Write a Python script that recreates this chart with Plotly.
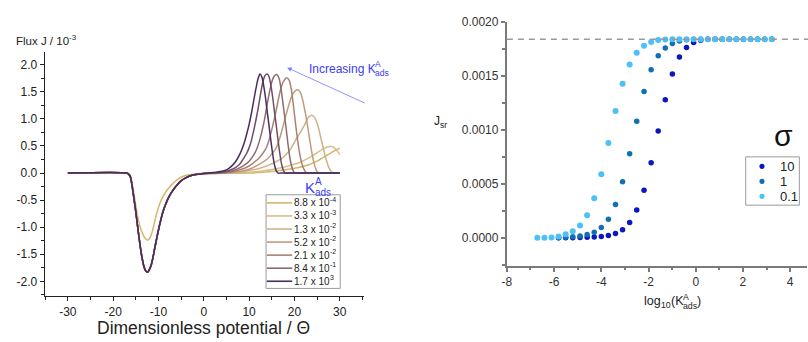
import plotly.graph_objects as go

# ---------------- Left panel data (flux J / 1e-3 vs dimensionless potential) ----------------
k_mantissa = ["8.8 x 10", "3.3 x 10", "1.3 x 10", "5.2 x 10", "2.1 x 10", "8.4 x 10", "", "1.7 x 10"]
k_exponent = ["-4", "-3", "-2", "-2", "-2", "-1", "", "3"]
k_colors = ["#D6B66C", "#D6BF88", "#CFB288", "#C29B7E", "#A98274", "#8F6B6F", "#6E4C66", "#4B2C5C"]

theta_dip = [-30, -17, -16.6, -16.2, -15.8, -15.35, -15, -14.6, -14.2, -13.7, -13.2, -12.8, -12.4, -12,
             -11.6, -11.3, -10.9, -10.45, -10, -9.5, -9, -8.4, -7.7, -6.9, -6, -5.1, -4, -2.6, -1]
flux_dip = [0, 0, -0.02, -0.07, -0.25, -0.51, -0.72, -0.99, -1.25, -1.53, -1.73, -1.81, -1.83, -1.78,
            -1.7, -1.59, -1.42, -1.23, -1.05, -0.87, -0.71, -0.57, -0.44, -0.33, -0.23, -0.15, -0.09, -0.04, -0.02]

theta_dip_low = [-30, -17, -16.6, -16.2, -15.8, -15.4, -15, -14.6, -14.1, -13.5, -13, -12.4, -11.9, -11.3,
                 -10.8, -10.2, -9.6, -9.1, -8.4, -7.7, -6.8, -5.85, -4.5, -3.3, -1]
flux_dip_low = [0, 0, -0.02, -0.06, -0.2, -0.4, -0.6, -0.8, -0.98, -1.12, -1.2, -1.24, -1.2, -1.06,
                -0.88, -0.69, -0.54, -0.45, -0.35, -0.27, -0.19, -0.12, -0.06, -0.03, -0.01]

theta_pk1 = [0, 1, 2, 3, 4, 5, 6, 7, 8, 8.5, 9, 9.5, 10, 10.5, 11, 11.5, 12, 12.4, 12.8, 13.2, 13.6, 14,
             14.4, 14.8, 15.2, 15.6, 16, 16.4, 17, 20, 30]
flux_pk1 = [-0.01, 0, 0.01, 0.02, 0.035, 0.06, 0.12, 0.21, 0.36, 0.46, 0.58, 0.73, 0.9, 1.1, 1.33, 1.56,
            1.75, 1.83, 1.78, 1.62, 1.4, 1.13, 0.87, 0.6, 0.35, 0.15, 0.04, 0, 0, 0, 0]

theta_pk2 = [0, 2, 3, 4, 5, 6, 7, 8, 9, 9.5, 10, 10.5, 11, 11.5, 12, 12.5, 13, 13.5, 14, 14.4, 14.8, 15.2,
             15.6, 16, 16.4, 16.8, 17.2, 17.6, 18, 19, 30]
flux_pk2 = [-0.01, 0, 0.01, 0.02, 0.035, 0.06, 0.1, 0.17, 0.3, 0.37, 0.47, 0.6, 0.78, 0.98, 1.2, 1.45,
            1.67, 1.8, 1.83, 1.78, 1.62, 1.4, 1.13, 0.87, 0.6, 0.35, 0.15, 0.04, 0, 0, 0]

theta_pk3 = [0, 3, 5, 6, 7, 8, 9, 10, 11, 11.7, 12.5, 13.1, 13.6, 14, 14.5, 15, 15.5, 16.1, 16.6, 17, 17.5,
             18.1, 18.6, 19, 19.4, 19.8, 20.1, 21, 30]
flux_pk3 = [-0.01, 0, 0.02, 0.035, 0.06, 0.1, 0.15, 0.22, 0.33, 0.45, 0.66, 0.87, 1.08, 1.28, 1.5, 1.68,
            1.79, 1.82, 1.75, 1.58, 1.27, 0.87, 0.52, 0.28, 0.12, 0.03, 0, 0, 0]

theta_pk4 = [0, 4, 6, 8, 10, 11, 12, 13, 13.7, 14.5, 15.2, 16, 16.5, 17, 17.5, 18.3, 18.8, 19.3, 19.8, 20.3,
             20.8, 21.3, 21.8, 22.3, 22.7, 24, 30]
flux_pk4 = [-0.01, 0, 0.02, 0.06, 0.13, 0.19, 0.26, 0.36, 0.45, 0.64, 0.87, 1.17, 1.38, 1.56, 1.68, 1.76,
            1.72, 1.55, 1.23, 0.87, 0.55, 0.3, 0.13, 0.04, 0, 0, 0]

theta_pk5 = [0, 5, 8, 10, 12, 14, 15, 15.9, 16.7, 17.5, 18.3, 19, 19.7, 20.7, 21.3, 21.9, 22.4, 22.9, 23.4,
             23.9, 24.4, 24.9, 25.3, 26.5, 30]
flux_pk5 = [-0.01, 0, 0.03, 0.07, 0.15, 0.26, 0.35, 0.45, 0.63, 0.87, 1.12, 1.32, 1.47, 1.54, 1.49, 1.32,
            1.11, 0.87, 0.6, 0.35, 0.16, 0.04, 0, 0, 0]

theta_pk6 = [0, 6, 9, 12, 15, 17, 18, 19.2, 20.2, 21.3, 22.3, 23, 23.8, 24.5, 25.2, 25.8, 26.4, 27, 27.6,
             28.2, 29, 30]
flux_pk6 = [-0.01, 0, 0.03, 0.08, 0.17, 0.26, 0.33, 0.45, 0.6, 0.75, 0.9, 1.02, 1.07, 1.02, 0.87, 0.66,
            0.45, 0.25, 0.1, 0.02, 0, 0]

theta_pk7 = [0, 8, 12, 16, 19, 21, 23, 24.5, 26, 27.2, 28.2, 28.9, 29.5, 30]
flux_pk7 = [-0.01, 0, 0.03, 0.08, 0.14, 0.19, 0.27, 0.35, 0.43, 0.48, 0.49, 0.46, 0.4, 0.34]

theta_pk8 = [0, 10, 15, 20, 23, 25, 26, 27, 28, 29, 30]
flux_pk8 = [0, 0, 0.03, 0.09, 0.15, 0.22, 0.27, 0.32, 0.37, 0.42, 0.46]

# order: lowest K first (legend order), highest K last (drawn on top)
curves = [
    (theta_dip_low + theta_pk8, flux_dip_low + flux_pk8),
    (theta_dip + theta_pk7, flux_dip + flux_pk7),
    (theta_dip + theta_pk6, flux_dip + flux_pk6),
    (theta_dip + theta_pk5, flux_dip + flux_pk5),
    (theta_dip + theta_pk4, flux_dip + flux_pk4),
    (theta_dip + theta_pk3, flux_dip + flux_pk3),
    (theta_dip + theta_pk2, flux_dip + flux_pk2),
    (theta_dip + theta_pk1, flux_dip + flux_pk1),
]

left_xticks = [-30, -20, -10, 0, 10, 20, 30]
left_xtext = ["-30", "-20", "-10", "0", "10", "20", "30"]
left_yticks = [-2, -1.5, -1, -0.5, 0, 0.5, 1, 1.5, 2]
left_ytext = ["-2.0", "-1.5", "-1.0", "-0.5", "0.0", "0.5", "1.0", "1.5", "2.0"]

# ---------------- Right panel data (J_sr vs log10 K) ----------------
log_k = [-6.71, -6.41, -6.11, -5.81, -5.51, -5.21, -4.90, -4.60, -4.30, -4.00, -3.70, -3.40, -3.10,
         -2.80, -2.50, -2.19, -1.89, -1.59, -1.29, -0.99, -0.69, -0.39, -0.09, 0.21, 0.51, 0.82, 1.12,
         1.42, 1.72, 2.02, 2.32, 2.62, 2.92, 3.22]
j_sigma01 = [0.0, 0.0, 0.003, 0.013, 0.034, 0.061, 0.115, 0.21, 0.367, 0.59, 0.88, 1.176, 1.427, 1.606,
             1.715, 1.779, 1.815, 1.833, 1.838, 1.84, 1.84, 1.84, 1.84, 1.84, 1.84, 1.84, 1.84, 1.84,
             1.84, 1.84, 1.84, 1.84, 1.84, 1.84]
j_sigma1 = [0.002, 0.005, 0.01, 0.018, 0.03, 0.052, 0.097, 0.173, 0.309, 0.52, 0.78, 1.08, 1.355, 1.558,
            1.688, 1.76, 1.80, 1.825, 1.835, 1.84, 1.84, 1.84, 1.84, 1.84, 1.84, 1.84, 1.84, 1.84, 1.84,
            1.84, 1.84]
j_sigma10 = [0.0, 0.001, 0.002, 0.003, 0.005, 0.008, 0.013, 0.022, 0.04, 0.076, 0.143, 0.258, 0.44, 0.695,
             0.99, 1.28, 1.518, 1.676, 1.764, 1.81, 1.83, 1.84, 1.84, 1.84, 1.84, 1.84, 1.84, 1.84, 1.84,
             1.84, 1.84]
j_limit = 1.84
sigma_labels = ["10", "1", "0.1"]
sigma_colors = ["#0A18BE", "#1170B0", "#4DC0F8"]

right_xticks = [-8, -6, -4, -2, 0, 2, 4]
right_xtext = ["-8", "-6", "-4", "-2", "0", "2", "4"]
right_yticks = [0, 0.0005, 0.001, 0.0015, 0.002]
right_ytext = ["0.0000", "0.0005", "0.0010", "0.0015", "0.0020"]

W, H = 808, 342
def px(x):
    return x / W
def py(y):
    return 1 - y / H

# Arial / Liberation Sans advance widths (per 1000 em) for text placement
ARIAL_W = {"0": 556, "1": 556, "2": 556, "3": 556, "4": 556, "5": 556, "6": 556, "7": 556, "8": 556,
           "9": 556, ".": 278, " ": 278, "x": 500, "-": 333, "l": 222, "o": 556, "g": 556, "(": 333,
           ")": 333, "K": 667, "a": 556, "d": 556, "s": 500, "J": 500, "F": 611, "u": 556, "/": 278,
           "A": 667, "r": 333}
def tw(s, size):
    return sum(ARIAL_W.get(c, 556) for c in s) * size / 1000.0

fig = go.Figure()

for (tx, fy), col in zip(curves, k_colors):
    fig.add_trace(go.Scatter(x=tx, y=fy, mode="lines", xaxis="x", yaxis="y",
                             line=dict(color=col, width=1.5, shape="spline", smoothing=0.8),
                             showlegend=False, hoverinfo="skip"))

series = [(log_k[3:], j_sigma10), (log_k[3:], j_sigma1), (log_k, j_sigma01)]
sizes = [5.5, 5.5, 6]
for (xs, ys), col, sz in zip(series, sigma_colors, sizes):
    fig.add_trace(go.Scatter(x=xs, y=[v * 1e-3 for v in ys], mode="markers", xaxis="x2", yaxis="y2",
                             marker=dict(color=col, size=sz, line=dict(width=0)),
                             showlegend=False, hoverinfo="skip"))

lax = dict(showline=True, linecolor="#222", linewidth=1.3, ticks="outside", ticklen=4, tickwidth=1.2,
           tickcolor="#222", showgrid=False, zeroline=False, tickfont=dict(size=12, color="#222"))
rax = dict(showline=True, linecolor="#7a7a7a", linewidth=2, ticks="outside", ticklen=4, tickwidth=1.5,
           tickcolor="#7a7a7a", showgrid=False, zeroline=False, tickfont=dict(size=12, color="#333"))

fig.update_layout(
    width=W, height=H, margin=dict(l=0, r=0, t=0, b=0),
    paper_bgcolor="white", plot_bgcolor="white", showlegend=False,
    font=dict(family="Arial", size=12, color="#222"),
    xaxis=dict(domain=[px(40), px(361)], range=[-35.1, 35.3], anchor="y",
               tickmode="array", tickvals=left_xticks, ticktext=left_xtext,
               minor=dict(tickmode="linear", tick0=0, dtick=5, ticks="outside", ticklen=2.5, tickcolor="#222"),
               **lax),
    yaxis=dict(domain=[py(295), py(46)], range=[-2.27, 2.235], anchor="x",
               tickmode="array", tickvals=left_yticks, ticktext=left_ytext,
               minor=dict(tickmode="linear", tick0=0, dtick=0.25, ticks="outside", ticklen=2.5, tickcolor="#222"),
               **lax),
    xaxis2=dict(domain=[px(505), px(806.7)], range=[-8, 4.7], anchor="y2",
                tickmode="array", tickvals=right_xticks, ticktext=right_xtext,
                minor=dict(tickmode="linear", tick0=0, dtick=1, ticks="outside", ticklen=2.5, tickcolor="#7a7a7a"),
                **rax),
    yaxis2=dict(domain=[py(264), py(15.3)], range=[-0.000257, 0.0020], anchor="x2",
                tickmode="array", tickvals=right_yticks, ticktext=right_ytext,
                minor=dict(tickmode="linear", tick0=0, dtick=0.00025, ticks="outside", ticklen=2.5, tickcolor="#7a7a7a"),
                **rax),
)

shapes = []
annotations = []
BLUE = "#3C3CF5"
DARK = "#222"

def txt(s, x, y, size, color=DARK, anchor="left"):
    return dict(text=s, xref="paper", yref="paper", x=px(x), y=py(y), xanchor=anchor, yanchor="middle",
                showarrow=False, borderpad=0, borderwidth=0, font=dict(size=size, color=color))

# dashed saturation line
shapes.append(dict(type="line", xref="paper", yref="y2", x0=px(505), x1=1, y0=j_limit * 1e-3, y1=j_limit * 1e-3,
                   line=dict(color="#9a9a9a", width=1.5, dash="6px,5px")))

# left manual legend
shapes.append(dict(type="rect", xref="paper", yref="paper", x0=px(262.7), x1=px(337.3), y0=py(287.3), y1=py(191.7),
                   line=dict(color="#9a9a9a", width=1), fillcolor="white", layer="above"))
leg_items = [(m, e, c) for m, e, c in zip(k_mantissa, k_exponent, k_colors) if m]
for i, (man, ex, col) in enumerate(leg_items):
    yc = 200 + i * 13.33
    shapes.append(dict(type="line", xref="paper", yref="paper", x0=px(263.5), x1=px(289), y0=py(yc), y1=py(yc),
                       line=dict(color=col, width=1.6), layer="above"))
    annotations.append(txt(man, 291, yc, 10))
    annotations.append(txt(ex, 291 + tw(man, 10) + 0.4, yc - 3.6, 7))
# legend title K with stacked A / ads
annotations += [
    txt("K", 312, 184, 15, BLUE, "right"),
    txt("A", 312.3, 178.5, 10, BLUE),
    txt("ads", 312, 189, 10, BLUE),
]

# right manual legend
shapes.append(dict(type="rect", xref="paper", yref="paper", x0=px(745.3), x1=px(799.3), y0=py(202.3), y1=py(153),
                   line=dict(color="#9a9a9a", width=1), fillcolor="white", layer="above"))
for i, (lab, col) in enumerate(zip(sigma_labels, sigma_colors)):
    yc = 162.7 + i * 15.3
    r = 2.6
    shapes.append(dict(type="circle", xref="paper", yref="paper", x0=px(761.7 - r), x1=px(761.7 + r),
                       y0=py(yc + r), y1=py(yc - r), fillcolor=col, line=dict(width=0), layer="above"))
    annotations.append(txt(lab, 779.5, yc, 13))

# Flux J / 10^-3
annotations.append(txt("Flux J / 10", 11, 35, 11.5))
annotations.append(txt("-3", 11 + tw("Flux J / 10", 11.5) + 0.4, 31, 8))

# x title left
annotations.append(txt("Dimensionless potential / Θ", 199.5, 328, 17.5, anchor="center"))

# Increasing K^A_ads + arrow
annotations += [
    txt("Increasing K", 306, 63, 12, BLUE),
    txt("A", 372.5, 58, 8.5, BLUE),
    txt("ads", 372, 67.5, 8.5, BLUE),
    dict(text="", xref="paper", yref="paper", x=px(284), y=py(62), ax=79, ay=36, showarrow=True,
         arrowhead=2, arrowsize=1.1, arrowwidth=0.8, arrowcolor="#7878FF"),
]

# J_sr
annotations.append(txt("J", 437.3, 116, 12, anchor="right"))
annotations.append(txt("sr", 437.6, 120, 8.5))

# log10(K^A_ads)
fs, ss = 12.5, 8.75
parts_w = tw("log", fs) + tw("10", ss) + tw("(K", fs) + tw("ads", ss) + tw(")", fs)
x0 = 672 - parts_w / 2
annotations.append(txt("log", x0, 300.5, fs))
x1 = x0 + tw("log", fs)
annotations.append(txt("10", x1, 304.5, ss))
x2 = x1 + tw("10", ss)
annotations.append(txt("(K", x2, 300.5, fs))
x3 = x2 + tw("(K", fs)
annotations.append(txt("A", x3, 296, ss))
annotations.append(txt("ads", x3, 305, ss))
x4 = x3 + tw("ads", ss)
annotations.append(txt(")", x4, 300.5, fs))

# sigma
annotations.append(txt("σ", 783, 131, 30, "#111", "center"))

fig.update_layout(shapes=shapes, annotations=annotations)
fig.write_html("out.html")
